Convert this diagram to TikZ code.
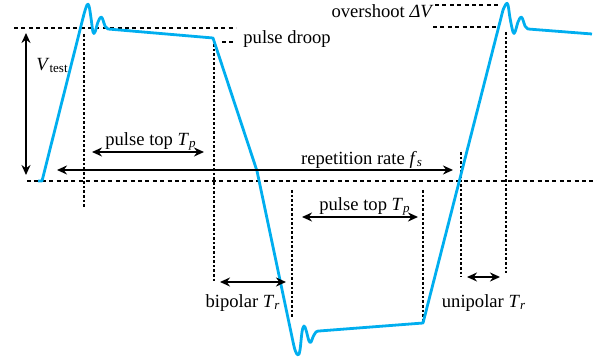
\documentclass[tikz,border=0pt]{standalone}
\usepackage{fontspec}
\setmainfont{Liberation Serif}
\newfontfamily\labelfont{Liberation Serif}
\usetikzlibrary{arrows.meta}
\definecolor{wavecol}{RGB}{0,174,239}

\begin{document}
\begin{tikzpicture}[
  x=0.5pt, y=-0.5pt,
  wave/.style={draw=wavecol, line width=1.4pt, line join=round},
  hguide/.style={line width=1.4pt, dash pattern=on 2pt off 1.7pt},
  vguide/.style={line width=1.4pt, dash pattern=on 1.3pt off 1pt},
  dim/.style={{Stealth[length=5pt, width=4.5pt]}-{Stealth[length=5pt, width=4.5pt]},
              line width=1.3pt},
  lbl/.style={font=\labelfont\fontsize{9.3}{11}\selectfont, inner sep=0pt}
]
  \useasboundingbox (0,0) rectangle (597,362);

  % ========== GUIDE LINES ==========
  \draw[hguide] (14,28) -- (236,28);
  \draw[hguide] (222,42) -- (236,42);
  \draw[hguide] (27,181) -- (597,181);
  \draw[hguide] (435,5) -- (500,5);
  \draw[hguide] (433,27) -- (498,27);

  \draw[vguide] (84,34) -- (84,208);
  \draw[vguide] (214,44) -- (214,281);
  \draw[vguide] (292,190) -- (292,317);
  \draw[vguide] (423,190) -- (423,321);
  \draw[vguide] (461,152) -- (461,277);
  \draw[vguide] (506,32) -- (506,273);

  % ========== WAVEFORM ==========
  \draw[wave] (38,181) -- (42,181) -- (84,14)
    -- plot[smooth, tension=0.6] coordinates {(84,14) (87,5) (89,6) (91,18) (93,32)
         (95,32) (98,22) (101,17) (103,20) (105,26) (108,29)}
    -- (213,38) -- (257,171) -- (292,337)
    -- plot[smooth, tension=0.6] coordinates {(292,337) (295,350) (298,355) (300,350)
         (302,332) (304,326) (306,330) (309,341) (311,342) (313,337) (316,332) (319,331)}
    -- (423,323) -- (503,10)
    -- plot[smooth, tension=0.6] coordinates {(503,10) (506,4) (508,5) (510,18) (513,32)
         (515,32) (518,22) (521,17) (523,20) (525,26) (528,29)}
    -- (592,34);

  % ========== DIMENSION ARROWS ==========
  \coordinate (vt-top) at (26,33);
  \coordinate (vt-bot) at (26,175);
  \coordinate (tp1-l) at (92,152);
  \coordinate (tp1-r) at (204,152);
  \coordinate (fs-l) at (57,170);
  \coordinate (fs-r) at (453,170);
  \coordinate (tp2-l) at (302,217);
  \coordinate (tp2-r) at (418,217);
  \coordinate (bi-l) at (220,282);
  \coordinate (bi-r) at (286,282);
  \coordinate (uni-l) at (467,277);
  \coordinate (uni-r) at (500,277);

  \draw[dim] (vt-top) -- (vt-bot);
  \draw[dim] (tp1-l) -- (tp1-r);
  \draw[dim] (fs-l) -- (fs-r);
  \draw[dim] (tp2-l) -- (tp2-r);
  \draw[dim] (bi-l) -- (bi-r);
  \draw[dim] (uni-l) -- (uni-r);

  % ========== LABELS ==========
  \node[lbl, anchor=base west] (vtest) at (36,71)
    {\textit{V}\textsubscript{test}};
  \node[lbl, anchor=base west] (droop) at (243,44) {pulse droop};
  \node[lbl, anchor=base east] (overshoot) at (434,18) {overshoot \textit{ΔV}};
  \node[lbl, anchor=base] (tp1) at (151,146)
    {pulse top \textit{T}\textsubscript{\textit{p}}};
  \node[lbl, anchor=base] (fs) at (362,165)
    {repetition rate \textit{f}\textsubscript{\textit{s}}};
  \node[lbl, anchor=base] (tp2) at (365,211)
    {pulse top \textit{T}\textsubscript{\textit{p}}};
  \node[lbl, anchor=base] (bipolar) at (243,307)
    {bipolar \textit{T}\textsubscript{\textit{r}}};
  \node[lbl, anchor=base] (unipolar) at (484,307)
    {unipolar \textit{T}\textsubscript{\textit{r}}};

\end{tikzpicture}
\end{document}
